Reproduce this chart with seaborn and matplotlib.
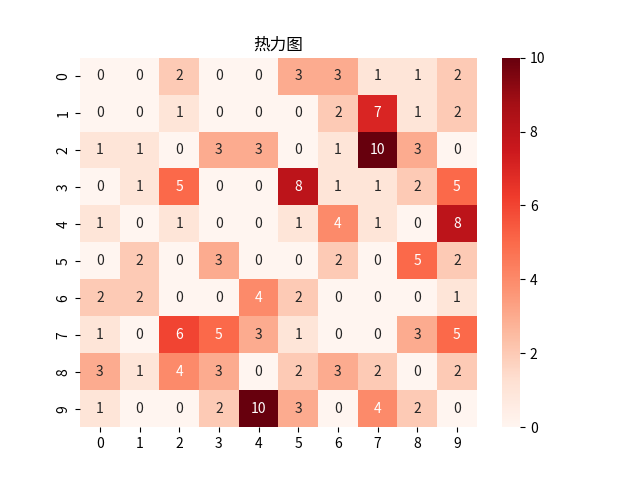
import numpy as np
import matplotlib
matplotlib.use("Agg")
import matplotlib.pyplot as plt
import seaborn as sns

plt.rcParams['font.family'] = ['Noto Sans CJK SC', 'DejaVu Sans']
plt.rcParams['axes.unicode_minus'] = False

row0 = [0, 0, 2, 0, 0, 3, 3, 1, 1, 2]
row1 = [0, 0, 1, 0, 0, 0, 2, 7, 1, 2]
row2 = [1, 1, 0, 3, 3, 0, 1, 10, 3, 0]
row3 = [0, 1, 5, 0, 0, 8, 1, 1, 2, 5]
row4 = [1, 0, 1, 0, 0, 1, 4, 1, 0, 8]
row5 = [0, 2, 0, 3, 0, 0, 2, 0, 5, 2]
row6 = [2, 2, 0, 0, 4, 2, 0, 0, 0, 1]
row7 = [1, 0, 6, 5, 3, 1, 0, 0, 3, 5]
row8 = [3, 1, 4, 3, 0, 2, 3, 2, 0, 2]
row9 = [1, 0, 0, 2, 10, 3, 0, 4, 2, 0]

data = np.array([row0, row1, row2, row3, row4, row5, row6, row7, row8, row9])

fig = plt.figure(figsize=(6.4, 4.8), dpi=100)
ax = sns.heatmap(data, annot=True, cmap="Reds", vmin=0, vmax=10)
ax.set_title("热力图")
plt.savefig("out.png")
